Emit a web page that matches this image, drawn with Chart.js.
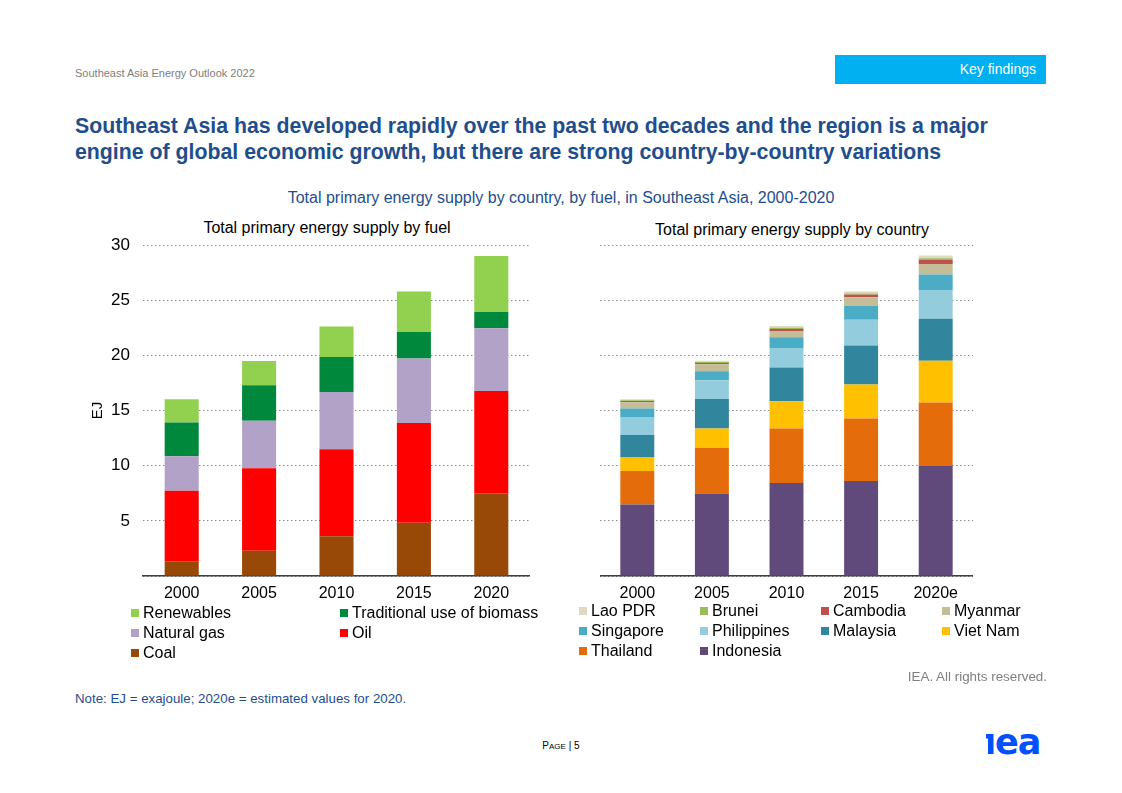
<!DOCTYPE html>
<html>
<head>
<meta charset="utf-8">
<script src="https://cdn.jsdelivr.net/npm/chart.js@4.4.1/dist/chart.umd.min.js"></script>
<style>
  body { margin: 0; background: #fff; font-family: "Liberation Sans", Arial, sans-serif; }
  #page { position: relative; width: 1122px; height: 793px; overflow: hidden; }
  .abs { position: absolute; white-space: nowrap; }
  .narrow { font-family: "Liberation Sans Narrow", "Arial Narrow", "Liberation Sans", sans-serif; }
  .legend { position: absolute; display: grid; row-gap: 1px; font-size: 16px; color: #000; }
  .legend div { display: flex; align-items: center; height: 19px; }
  .legend span.sw { width: 8px; height: 8px; margin-right: 4px; flex: none; }
</style>
</head>
<body>
<div id="page">
  <div class="abs narrow" style="left:75px; top:67px; font-size:11px; color:#808080;">Southeast Asia Energy Outlook 2022</div>
  <div class="abs narrow" style="left:835px; top:55px; width:211px; height:29px; background:#00b0f0; color:#fff; font-size:14px; line-height:29px; text-align:right; box-sizing:border-box; padding-right:10px;">Key findings</div>
  <div class="abs" style="left:75px; top:113px; font-size:21.3px; font-weight:bold; color:#1f4e8c; line-height:26px;">Southeast Asia has developed rapidly over the past two decades and the region is a major<br>engine of global economic growth, but there are strong country-by-country variations</div>
  <div class="abs" style="left:0; width:1122px; top:189px; text-align:center; font-size:16px; color:#1f4e8c;">Total primary energy supply by country, by fuel, in Southeast Asia, 2000-2020</div>
  <div class="abs" style="left:127px; width:400px; top:219px; text-align:center; font-size:16px; color:#000;">Total primary energy supply by fuel</div>
  <div class="abs" style="left:592px; width:400px; top:221px; text-align:center; font-size:16px; color:#000;">Total primary energy supply by country</div>

  <div class="abs" style="left:80px; top:222px; width:450px; height:384px;"><canvas id="fuelChart"></canvas></div>
  <div class="abs" style="left:600px; top:235px; width:373px; height:371px;"><canvas id="countryChart"></canvas></div>

  <div id="fuelLegend" class="legend" style="left:131px; top:603px; grid-template-columns:209px 200px;"></div>
  <div id="countryLegend" class="legend" style="left:579px; top:601px; grid-template-columns:121px 121px 121px 110px;"></div>

  <div class="abs" style="right:75px; top:669px; font-size:13.4px; color:#808080;">IEA. All rights reserved.</div>
  <div class="abs" style="left:75px; top:691px; font-size:13.3px; color:#1f4e8c;">Note: EJ = exajoule; 2020e = estimated values for 2020.</div>
  <div class="abs" style="left:0; width:1122px; top:740px; text-align:center; font-size:10px; color:#000;">P<span style="font-size:8px;">AGE</span> | 5</div>
  <svg class="abs" style="left:980px; top:728px;" width="75" height="32">
    <rect x="6" y="6" width="7" height="4.5" fill="#0050ff"/>
    <rect x="8" y="6" width="5.5" height="20" fill="#0050ff"/>
    <text x="15" y="26" font-family="'DejaVu Sans', sans-serif" font-weight="bold" font-size="35" letter-spacing="-1" fill="#0050ff">ea</text>
  </svg>
</div>

<script>
const years = ['2000', '2005', '2010', '2015', '2020'];
const countryYears = ['2000', '2005', '2010', '2015', '2020e'];

// by fuel, EJ (bottom to top)
const fuelNames = ['Coal', 'Oil', 'Natural gas', 'Traditional use of biomass', 'Renewables'];
const fuelColors = ['#984807', '#ff0000', '#b3a2c7', '#00883c', '#92d050'];
const coal = [1.33, 2.30, 3.60, 4.84, 7.50];
const oil = [6.41, 7.47, 7.89, 9.04, 9.28];
const gas = [3.12, 4.32, 5.20, 5.84, 5.69];
const biomass = [3.05, 3.21, 3.18, 2.41, 1.48];
const renewables = [2.12, 2.20, 2.75, 3.66, 5.08];

// by country, EJ (bottom to top)
const countryNames = ['Indonesia', 'Thailand', 'Viet Nam', 'Malaysia', 'Philippines', 'Singapore', 'Myanmar', 'Cambodia', 'Brunei', 'Lao PDR'];
const countryColors = ['#604a7b', '#e46c0a', '#ffc000', '#31859c', '#93cddd', '#4bacc6', '#c4bd97', '#c0504d', '#9bbb59', '#ddd9c3'];
const indonesia = [6.48, 7.47, 8.43, 8.61, 9.97];
const thailand = [3.04, 4.13, 4.94, 5.67, 5.75];
const vietnam = [1.23, 1.77, 2.47, 3.07, 3.80];
const malaysia = [2.02, 2.68, 3.05, 3.55, 3.79];
const philippines = [1.63, 1.69, 1.77, 2.32, 2.62];
const singapore = [0.78, 0.81, 0.97, 1.27, 1.39];
const myanmar = [0.57, 0.64, 0.57, 0.78, 0.96];
const cambodia = [0.12, 0.12, 0.18, 0.21, 0.36];
const brunei = [0.06, 0.09, 0.12, 0.12, 0.16];
const lao = [0.09, 0.12, 0.15, 0.18, 0.24];

const fuelData = [coal, oil, gas, biomass, renewables];
const countryData = [indonesia, thailand, vietnam, malaysia, philippines, singapore, myanmar, cambodia, brunei, lao];

const fontFamily = '"Liberation Sans", Arial, sans-serif';

function makeChart(id, labels, names, colors, series, showY, barPct, padTop) {
    return new Chart(document.getElementById(id), {
        type: 'bar',
        data: {
            labels: labels,
            datasets: series.map((d, i) => ({
                label: names[i],
                data: d,
                backgroundColor: colors[i],
                borderWidth: 0,
                barPercentage: barPct,
                categoryPercentage: 1
            }))
        },
        options: {
            responsive: true,
            maintainAspectRatio: false,
            animation: false,
            layout: { padding: { top: padTop, right: 0, left: 0, bottom: 0 } },
            plugins: { legend: { display: false }, tooltip: { enabled: false } },
            scales: {
                x: {
                    stacked: true,
                    grid: { display: false },
                    border: { display: true, color: '#404040', width: 1.5 },
                    ticks: { color: '#000', font: { family: fontFamily, size: 16 }, padding: 0 },
                    afterFit: s => { s.height = 30; }
                },
                y: {
                    stacked: true,
                    min: 0,
                    max: 30,
                    border: { display: false, dash: [1.5, 2.5] },
                    grid: {
                        color: '#8c8c8c',
                        lineWidth: 1,
                        drawTicks: false
                    },
                    ticks: {
                        display: showY,
                        stepSize: 5,
                        color: '#000',
                        font: { family: fontFamily, size: 17 },
                        padding: 13,
                        callback: v => v === 0 ? '' : v
                    },
                    title: {
                        display: showY,
                        text: 'EJ',
                        color: '#000',
                        font: { family: fontFamily, size: 15 },
                        padding: { top: 9, bottom: 0 }
                    },
                    afterFit: s => { s.width = showY ? 63 : 0; }
                }
            }
        }
    });
}

makeChart('fuelChart', years, fuelNames, fuelColors, fuelData, true, 0.44, 0);
makeChart('countryChart', countryYears, countryNames, countryColors, countryData, false, 0.455, 10);

function buildLegend(elId, names, colors) {
    const el = document.getElementById(elId);
    for (let i = names.length - 1; i >= 0; i--) {
        const item = document.createElement('div');
        item.innerHTML = '<span class="sw" style="background:' + colors[i] + '"></span>' + names[i];
        el.appendChild(item);
    }
}
buildLegend('fuelLegend', fuelNames, fuelColors);
buildLegend('countryLegend', countryNames, countryColors);
</script>
</body>
</html>
